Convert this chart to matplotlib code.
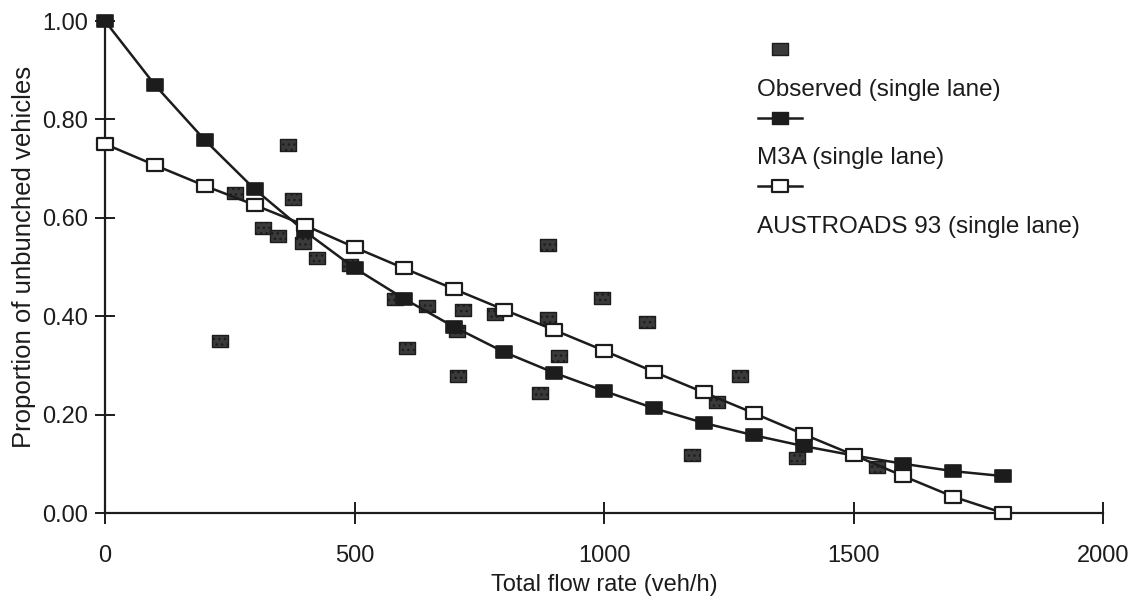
import matplotlib
matplotlib.use("Agg")
import matplotlib.pyplot as plt
from matplotlib.path import Path
import numpy as np

plt.rcParams['font.family'] = ['Liberation Sans', 'DejaVu Sans']
plt.rcParams['hatch.color'] = '#d8d8d8'
plt.rcParams['hatch.linewidth'] = 1.0

# ---- data ----
model_flow = [0, 100, 200, 300, 400, 500, 600, 700, 800, 900, 1000,
              1100, 1200, 1300, 1400, 1500, 1600, 1700, 1800]
m3a = [1.00, 0.87, 0.758, 0.658, 0.573, 0.498, 0.435, 0.378, 0.327, 0.285,
       0.248, 0.213, 0.183, 0.158, 0.136, 0.117, 0.100, 0.085, 0.075]
austroads = [0.750, 0.707, 0.665, 0.626, 0.585, 0.540, 0.497, 0.455, 0.413,
             0.372, 0.330, 0.287, 0.245, 0.203, 0.160, 0.118, 0.075, 0.033, 0.0]

obs_flow = [367, 377, 260, 317, 347, 397, 425, 491, 581, 230, 888, 645, 717,
            782, 888, 996, 1086, 605, 707, 705, 910, 872, 1273, 1226, 1176,
            1387, 1547]
obs_prop = [0.748, 0.638, 0.650, 0.579, 0.563, 0.549, 0.518, 0.504, 0.435,
            0.350, 0.545, 0.421, 0.413, 0.404, 0.396, 0.437, 0.388, 0.335,
            0.278, 0.370, 0.319, 0.244, 0.278, 0.226, 0.118, 0.112, 0.094]

x_ticks = [0, 500, 1000, 1500, 2000]
y_ticks = [0.0, 0.2, 0.4, 0.6, 0.8, 1.0]
x_label = "Total flow rate (veh/h)"
y_label = "Proportion of unbunched vehicles"
legend_labels = ["Observed (single lane)", "M3A (single lane)",
                 "AUSTROADS 93 (single lane)"]

# ---- styling ----
W, H = 1134, 598
fig = plt.figure(figsize=(W / 100, H / 100), dpi=100)
ax = fig.add_axes([105 / W, 1 - 513 / H, (1103 - 105) / W, (513 - 21) / H])

rect = Path([(-1, -0.78), (1, -0.78), (1, 0.78), (-1, 0.78), (-1, -0.78)],
            [Path.MOVETO, Path.LINETO, Path.LINETO, Path.LINETO, Path.CLOSEPOLY])
ink = '#1c1c1c'

ax.scatter(obs_flow, obs_prop, marker=rect, s=11.5 ** 2, facecolor='#3a3a3a',
           edgecolor=ink, linewidths=1.0, hatch='...', zorder=3, clip_on=False)
ax.plot(model_flow, m3a, color=ink, lw=1.8, marker=rect, ms=11.5, mfc=ink,
        mec=ink, mew=1.2, zorder=4, clip_on=False)
ax.plot(model_flow, austroads, color=ink, lw=1.8, marker=rect, ms=11.5,
        mfc='white', mec=ink, mew=1.6, zorder=5, clip_on=False)

ax.set_xlim(0, 2000)
ax.set_ylim(0, 1.0)
ax.set_xticks(x_ticks)
ax.set_yticks(y_ticks)
ax.set_yticklabels([f"{v:.2f}" for v in y_ticks])
for s in ['top', 'right']:
    ax.spines[s].set_visible(False)
for s in ['left', 'bottom']:
    ax.spines[s].set_color(ink)
    ax.spines[s].set_linewidth(1.6)
ax.tick_params(axis='x', direction='inout', length=16, width=1.4, color=ink,
               pad=15, labelsize=17, labelcolor=ink)
ax.tick_params(axis='y', direction='inout', length=14, width=1.4, color=ink,
               pad=5, labelsize=17, labelcolor=ink)
ax.set_xlabel(x_label, fontsize=17, color=ink, labelpad=5)
ax.set_ylabel(y_label, fontsize=18.5, color=ink)
ax.yaxis.set_label_coords(-(105 - 36) / (1103 - 105), 0.52)

# ---- legend (marker above label, as in original) ----
def fx(px):
    return px / W

def fy(py):
    return 1 - py / H

fig.add_artist(plt.Line2D([fx(780)], [fy(49)], marker=rect, ms=11.5, ls='none',
                          mfc='#3a3a3a', mec=ink, mew=1.0))
fig.text(fx(757), fy(90), legend_labels[0], fontsize=17.5, color=ink, va='center')
fig.add_artist(plt.Line2D([fx(758), fx(802)], [fy(118), fy(118)], color=ink, lw=1.8))
fig.add_artist(plt.Line2D([fx(780)], [fy(118)], marker=rect, ms=11.5, ls='none',
                          mfc=ink, mec=ink))
fig.text(fx(757), fy(158), legend_labels[1], fontsize=17.5, color=ink, va='center')
fig.add_artist(plt.Line2D([fx(758), fx(802)], [fy(186), fy(186)], color=ink, lw=1.8))
fig.add_artist(plt.Line2D([fx(780)], [fy(186)], marker=rect, ms=11.5, ls='none',
                          mfc='white', mec=ink, mew=1.6))
fig.text(fx(757), fy(227), legend_labels[2], fontsize=17.5, color=ink, va='center')

fig.savefig("out.png", dpi=100)
